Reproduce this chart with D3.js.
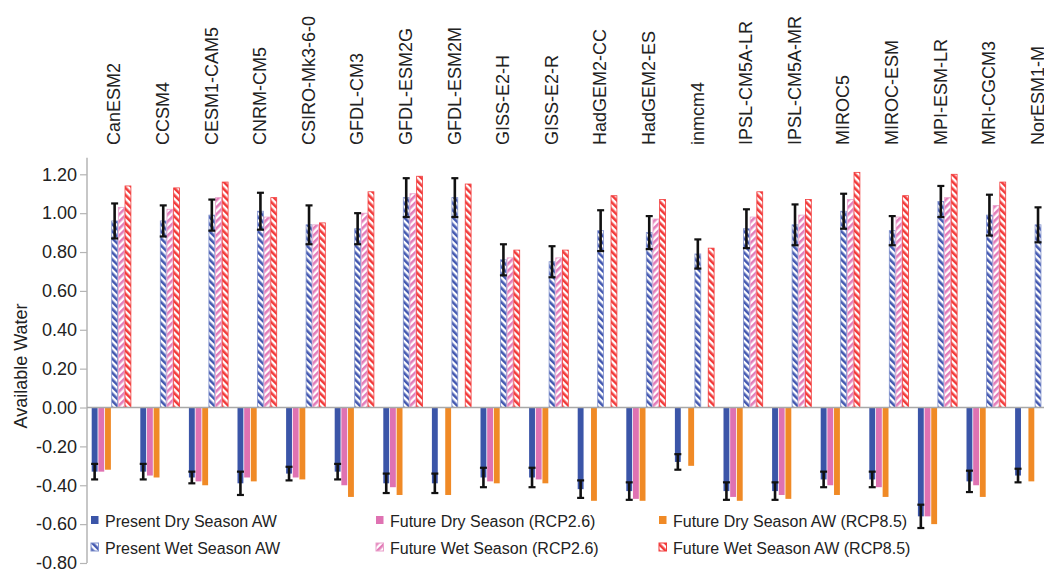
<!DOCTYPE html>
<html>
<head>
<meta charset="utf-8">
<script src="https://cdn.jsdelivr.net/npm/d3@7/dist/d3.min.js"></script>
<style>
  body { margin: 0; background: #fff; }
  text { font-family: "Liberation Sans", Arial, Helvetica, sans-serif; fill: #222; }
</style>
</head>
<body>
<div id="chart_container"></div>
<script>
// model names (x categories)
const models = ["CanESM2", "CCSM4", "CESM1-CAM5", "CNRM-CM5", "CSIRO-Mk3-6-0", "GFDL-CM3",
  "GFDL-ESM2G", "GFDL-ESM2M", "GISS-E2-H", "GISS-E2-R", "HadGEM2-CC", "HadGEM2-ES", "inmcm4",
  "IPSL-CM5A-LR", "IPSL-CM5A-MR", "MIROC5", "MIROC-ESM", "MPI-ESM-LR", "MRI-CGCM3", "NorESM1-M"];

// dry season (negative)
const presentDry = [-0.33, -0.33, -0.36, -0.39, -0.34, -0.33, -0.39, -0.39, -0.36, -0.36,
  -0.42, -0.43, -0.28, -0.43, -0.43, -0.37, -0.37, -0.56, -0.38, -0.35];
const presentDryErr = [0.04, 0.04, 0.03, 0.06, 0.035, 0.04, 0.05, 0.05, 0.05, 0.05,
  0.045, 0.045, 0.04, 0.045, 0.045, 0.04, 0.04, 0.06, 0.055, 0.035];
const futureDry26 = [-0.33, -0.35, -0.38, -0.36, -0.36, -0.40, -0.41, null, -0.38, -0.37,
  null, -0.47, null, -0.46, -0.45, -0.40, -0.41, -0.56, -0.40, null];
const futureDry85 = [-0.32, -0.36, -0.40, -0.38, -0.37, -0.46, -0.45, -0.45, -0.39, -0.39,
  -0.48, -0.48, -0.30, -0.48, -0.47, -0.45, -0.46, -0.60, -0.46, -0.38];

// wet season (positive)
const presentWet = [0.96, 0.96, 0.99, 1.01, 0.94, 0.92, 1.08, 1.08, 0.76, 0.75,
  0.91, 0.90, 0.79, 0.92, 0.94, 1.01, 0.91, 1.06, 0.99, 0.94];
const presentWetErr = [0.09, 0.08, 0.08, 0.095, 0.10, 0.08, 0.10, 0.10, 0.08, 0.08,
  0.105, 0.085, 0.075, 0.10, 0.105, 0.09, 0.075, 0.08, 0.105, 0.09];
const futureWet26 = [1.03, 1.02, 1.08, 0.98, 0.94, 1.00, 1.10, null, 0.77, 0.77,
  null, 0.97, null, 0.98, 0.99, 1.07, 0.98, 1.08, 1.04, null];
const futureWet85 = [1.14, 1.13, 1.16, 1.08, 0.95, 1.11, 1.19, 1.15, 0.81, 0.81,
  1.09, 1.07, 0.82, 1.11, 1.07, 1.21, 1.09, 1.20, 1.16, 1.06];

const yTicks = [-0.8, -0.6, -0.4, -0.2, 0, 0.2, 0.4, 0.6, 0.8, 1.0, 1.2];

const seriesKeys = ["presentDry", "futureDry26", "futureDry85", "presentWet", "futureWet26", "futureWet85"];
const seriesLabels = ["Present Dry Season AW", "Future Dry Season (RCP2.6)", "Future Dry Season AW (RCP8.5)",
  "Present Wet Season AW", "Future Wet Season (RCP2.6)", "Future Wet Season AW (RCP8.5)"];
const seriesValues = [presentDry, futureDry26, futureDry85, presentWet, futureWet26, futureWet85];

const W = 1044, H = 570;
const svg = d3.select("#chart_container").append("svg")
  .attr("width", W).attr("height", H);

// hatch patterns
const defs = svg.append("defs");
function hatch(id, color, angle) {
  const p = defs.append("pattern")
    .attr("id", id)
    .attr("patternUnits", "userSpaceOnUse")
    .attr("width", 5).attr("height", 5)
    .attr("patternTransform", `rotate(${angle})`);
  p.append("rect").attr("width", 5).attr("height", 5).attr("fill", "#fff");
  p.append("rect").attr("width", 2.6).attr("height", 5).attr("fill", color);
}
hatch("hatchBlue", "#4358b0", -45);
hatch("hatchPink", "#e37cb8", 45);
hatch("hatchRed", "#f23a3a", -45);

const styles = {
  presentDry: { fill: "#3b55a8", stroke: "none" },
  futureDry26: { fill: "#df72b2", stroke: "none" },
  futureDry85: { fill: "#f08a26", stroke: "none" },
  presentWet: { fill: "url(#hatchBlue)", stroke: "#7f90cc" },
  futureWet26: { fill: "url(#hatchPink)", stroke: "#eaa2cc" },
  futureWet85: { fill: "url(#hatchRed)", stroke: "#f23a3a" }
};

const x0 = d3.scaleBand().domain(models).range([87, 1059])
  .paddingInner(0.177).paddingOuter(0.0885);
const x1 = d3.scaleBand().domain(seriesKeys).range([0, x0.bandwidth()]);
const y = d3.scaleLinear().domain([-0.8, 1.2]).range([563, 174.3]);

// y axis
const yAxis = svg.append("g")
  .attr("transform", "translate(87,0)")
  .call(d3.axisLeft(y).tickValues(yTicks).tickFormat(d => d.toFixed(2))
    .tickSize(7).tickPadding(3));
yAxis.select(".domain").remove();
yAxis.selectAll(".tick line").attr("stroke", "#b5b5b5").attr("stroke-width", 1.2);
yAxis.selectAll(".tick text").attr("fill", "#222").style("font-size", "18px")
  .style("font-family", "'Liberation Sans', Arial, sans-serif");
svg.append("line")
  .attr("x1", 87).attr("x2", 87).attr("y1", y(1.285)).attr("y2", y(-0.8))
  .attr("stroke", "#b5b5b5").attr("stroke-width", 1.5);

svg.append("text")
  .attr("transform", "translate(27,366) rotate(-90)")
  .attr("text-anchor", "middle")
  .style("font-size", "18px")
  .text("Available Water");

// bars
const rows = models.map((m, i) => ({
  model: m,
  values: seriesKeys.map((k, s) => ({ key: k, value: seriesValues[s][i] }))
}));

const groups = svg.append("g").selectAll("g")
  .data(rows)
  .join("g")
  .attr("transform", d => `translate(${x0(d.model)},0)`);

groups.selectAll("rect")
  .data(d => d.values.filter(v => v.value !== null))
  .join("rect")
  .attr("x", d => x1(d.key) + 0.4)
  .attr("width", x1.bandwidth() - 0.8)
  .attr("y", d => y(Math.max(0, d.value)))
  .attr("height", d => Math.abs(y(d.value) - y(0)))
  .attr("fill", d => styles[d.key].fill)
  .attr("stroke", d => styles[d.key].stroke)
  .attr("stroke-width", 0.8);

// zero line
svg.append("line")
  .attr("x1", 87).attr("x2", W).attr("y1", y(0)).attr("y2", y(0))
  .attr("stroke", "#a8a8a8").attr("stroke-width", 1.5);

// error bars on present-day bars
function errorBars(key, vals, errs) {
  const g = svg.append("g");
  models.forEach((m, i) => {
    const cx = x0(m) + x1(key) + x1.bandwidth() / 2;
    const top = y(vals[i] + errs[i]), bot = y(vals[i] - errs[i]);
    g.append("line").attr("x1", cx).attr("x2", cx).attr("y1", top).attr("y2", bot)
      .attr("stroke", "#111").attr("stroke-width", 2.6);
    [top, bot].forEach(yy => g.append("line")
      .attr("x1", cx - 3.5).attr("x2", cx + 3.5).attr("y1", yy).attr("y2", yy)
      .attr("stroke", "#111").attr("stroke-width", 2.2));
  });
}
errorBars("presentDry", presentDry, presentDryErr);
errorBars("presentWet", presentWet, presentWetErr);

// rotated model labels along the top
svg.append("g").selectAll("text")
  .data(models)
  .join("text")
  .attr("transform", d => `translate(${x0(d) + x0.bandwidth() / 2 + 9},145) rotate(-90)`)
  .attr("text-anchor", "start")
  .style("font-size", "18px")
  .text(d => d);

// legend (3 columns x 2 rows)
const legendOrder = [0, 3, 1, 4, 2, 5];
const legendX = [91, 376, 659];
const legendY = [521, 548];
const legend = svg.append("g");
legendOrder.forEach((s, j) => {
  const col = Math.floor(j / 2), row = j % 2;
  const key = seriesKeys[s];
  const lx = legendX[col], ly = legendY[row];
  legend.append("rect")
    .attr("x", lx).attr("y", ly - 5).attr("width", 7.5).attr("height", 8)
    .attr("fill", styles[key].fill)
    .attr("stroke", styles[key].stroke).attr("stroke-width", 1);
  legend.append("text")
    .attr("x", lx + 14).attr("y", ly + 5.5)
    .style("font-size", "16px")
    .text(seriesLabels[s]);
});
</script>
</body>
</html>
